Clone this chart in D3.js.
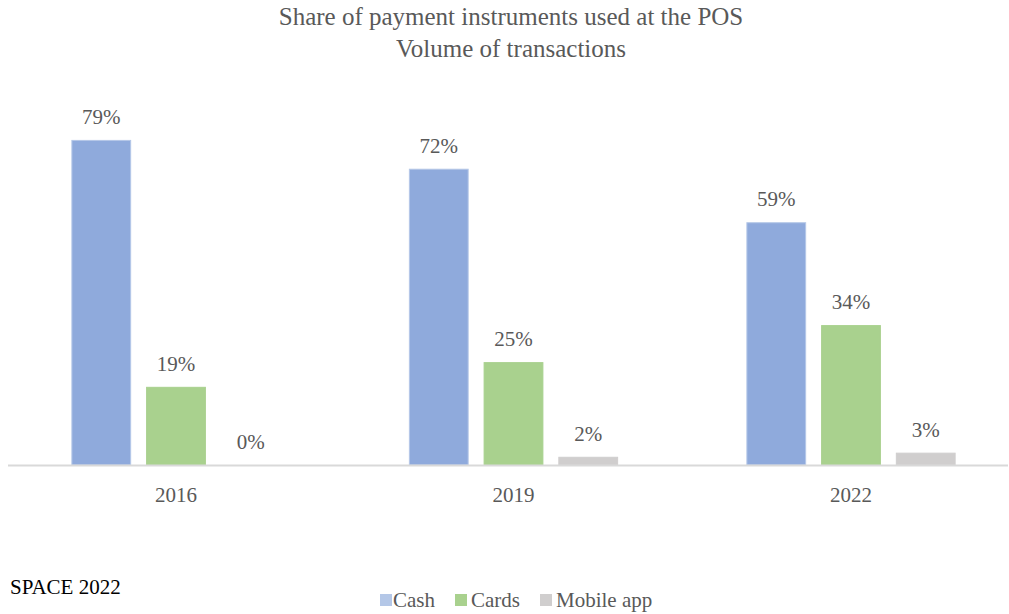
<!DOCTYPE html>
<html><head><meta charset="utf-8">
<script src="https://cdn.jsdelivr.net/npm/d3@7"></script>
<style>body{margin:0;background:#fff}svg{display:block}</style>
</head><body>
<script>
const years = ["2016", "2019", "2022"];
const seriesNames = ["Cash", "Cards", "Mobile app"];
const cash = [79, 72, 59];
const cards = [19, 25, 34];
const mobile = [0, 2, 3];
const colors = ["#8FAADC", "#A9D18E", "#D0CECE"];
const borders = ["#B4C7E7", "#A9D18E", "#D0CECE"];

const W = 1009, H = 614;
const svg = d3.select("body").append("svg").attr("width", W).attr("height", H);
const font = "'Liberation Serif','Times New Roman',serif";
const txt = "#595959";
const baseY = 465;

const x0 = d3.scaleBand().domain(years).range([7.25, 1019.75]).paddingInner(0.38).paddingOuter(0.19);
const x1 = d3.scaleBand().domain(seriesNames).range([0, x0.bandwidth()]).paddingInner(0.2);
const y = d3.scaleLinear().domain([0, 90]).range([baseY, baseY - 90 * 4.115]);

const series = [cash, cards, mobile];
const data = [];
years.forEach((yr, i) => seriesNames.forEach((s, j) => data.push({yr, s, j, v: series[j][i]})));

svg.append("g").selectAll("rect").data(data).join("rect")
  .attr("x", d => x0(d.yr) + x1(d.s) + 0.5)
  .attr("y", d => y(d.v) + 0.5)
  .attr("width", x1.bandwidth() - 1)
  .attr("height", d => Math.max(0, y(0) - y(d.v) - 0.5))
  .attr("fill", d => colors[d.j])
  .attr("stroke", d => borders[d.j])
  .attr("stroke-width", d => d.v > 0 ? 1 : 0);

svg.append("g").selectAll("text").data(data).join("text")
  .attr("x", d => x0(d.yr) + x1(d.s) + x1.bandwidth() / 2)
  .attr("y", d => y(d.v) - 16)
  .attr("text-anchor", "middle")
  .attr("font-family", font).attr("font-size", 21).attr("fill", txt)
  .text(d => d.v + "%");

// axis
svg.append("line").attr("x1", 8).attr("x2", 1008).attr("y1", baseY + 0.5).attr("y2", baseY + 0.5)
  .attr("stroke", "#D9D9D9").attr("stroke-width", 2);

svg.append("g").selectAll("text").data(years).join("text")
  .attr("x", d => x0(d) + x0.bandwidth() / 2)
  .attr("y", 502)
  .attr("text-anchor", "middle")
  .attr("font-family", font).attr("font-size", 21).attr("fill", txt)
  .text(d => d);

// title
svg.append("text").attr("x", 511).attr("y", 25).attr("text-anchor", "middle")
  .attr("font-family", font).attr("font-size", 25).attr("fill", txt)
  .text("Share of payment instruments used at the POS");
svg.append("text").attr("x", 511).attr("y", 57).attr("text-anchor", "middle")
  .attr("font-family", font).attr("font-size", 25).attr("fill", txt)
  .text("Volume of transactions");

// source
svg.append("text").attr("x", 10).attr("y", 594)
  .attr("font-family", font).attr("font-size", 21).attr("fill", "#000")
  .text("SPACE 2022");

// legend
const legX = [380, 455, 540];
const leg = svg.append("g").selectAll("g").data(seriesNames).join("g")
  .attr("transform", (d, i) => `translate(${legX[i]},0)`);
leg.append("rect").attr("x", 0).attr("y", 594).attr("width", 12).attr("height", 12)
  .attr("fill", (d, i) => i === 0 ? "#B4C7E7" : colors[i]);
leg.append("text").attr("x", (d, i) => i === 0 ? 13 : 16).attr("y", 607)
  .attr("font-family", font).attr("font-size", 21).attr("fill", txt)
  .text(d => d);
</script>
</body></html>
